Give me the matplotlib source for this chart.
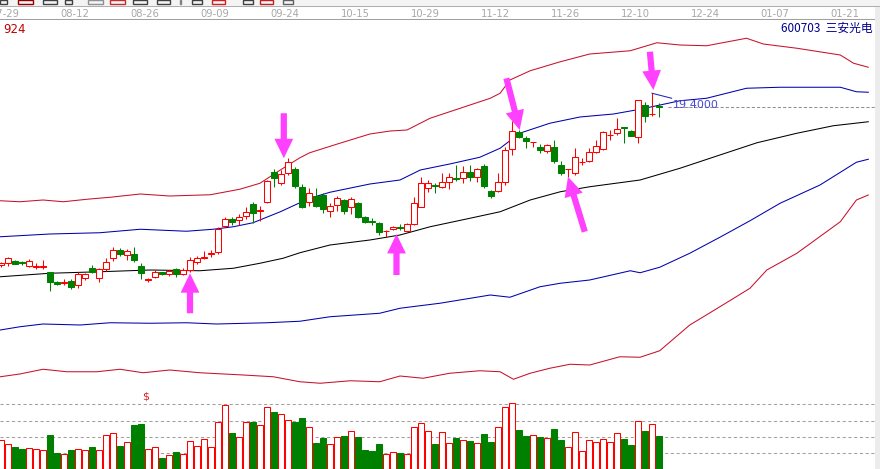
import matplotlib
matplotlib.use("Agg")
import matplotlib.pyplot as plt
from matplotlib.patches import Rectangle
import numpy as np

plt.rcParams['font.family'] = ['Noto Sans CJK SC', 'DejaVu Sans']

# %% data (daily OHLC + volume)
opens = [12.53, 12.60, 12.69, 12.64, 12.49, 12.44, 12.45, 12.24, 11.86, 11.80,
         11.90, 11.74, 12.02, 12.42, 12.02, 12.36, 12.82, 13.14, 12.92, 12.97,
         12.49, 11.93, 12.05, 12.25, 12.16, 12.36, 12.18, 12.33, 12.65, 12.80,
         12.97, 13.04, 14.09, 14.36, 14.33, 14.50, 14.97, 14.70, 15.04, 16.24,
         15.80, 16.20, 16.38, 15.66, 15.04, 15.29, 15.34, 14.70, 14.92, 15.13,
         14.84, 15.00, 14.46, 14.28, 14.20, 13.88, 13.96, 14.05, 13.89, 14.16,
         14.84, 15.60, 15.72, 15.66, 15.84, 16.01, 16.00, 16.24, 16.06, 16.50,
         15.49, 15.50, 15.86, 17.17, 17.86, 17.62, 17.45, 17.25, 17.10, 17.26,
         16.53, 16.36, 16.20, 16.65, 16.70, 17.04, 17.17, 17.72, 17.80, 18.05,
         17.89, 17.66, 18.93, 18.56, 18.89]
highs = [12.66, 12.86, 12.73, 12.70, 12.76, 12.60, 12.73, 12.25, 11.89, 11.96,
         11.96, 12.26, 12.22, 12.53, 12.41, 12.82, 13.24, 13.20, 13.17, 13.26,
         12.60, 12.01, 12.33, 12.26, 12.34, 12.40, 12.40, 12.84, 12.88, 13.10,
         13.13, 14.04, 14.44, 14.44, 14.57, 14.84, 15.06, 14.89, 15.93, 16.36,
         16.33, 16.80, 16.46, 15.76, 15.60, 15.61, 15.42, 15.00, 15.29, 15.16,
         15.24, 15.06, 14.49, 14.40, 14.24, 13.93, 14.09, 14.16, 14.20, 15.24,
         16.04, 15.93, 15.80, 16.20, 16.22, 16.53, 16.49, 16.53, 16.40, 16.56,
         15.53, 16.20, 17.26, 18.30, 17.93, 17.69, 17.46, 17.37, 17.37, 17.53,
         16.70, 16.37, 17.20, 16.80, 17.20, 17.53, 17.89, 17.93, 18.42, 18.06,
         17.93, 19.13, 19.06, 19.40, 19.00]
lows = [12.46, 12.49, 12.55, 12.52, 12.44, 12.36, 12.38, 11.49, 11.73, 11.73,
        11.56, 11.60, 11.93, 12.22, 11.85, 12.30, 12.70, 12.90, 12.72, 12.66,
        11.96, 11.85, 12.01, 12.14, 12.09, 12.06, 12.13, 12.26, 12.58, 12.76,
        12.84, 12.97, 14.06, 14.12, 14.13, 14.37, 14.20, 14.30, 15.01, 15.66,
        15.73, 16.13, 15.60, 14.82, 14.90, 14.84, 14.60, 14.44, 14.70, 14.57,
        14.57, 14.40, 14.21, 14.13, 13.73, 13.66, 13.93, 13.93, 13.86, 14.13,
        14.84, 15.46, 15.40, 15.60, 15.56, 15.89, 15.80, 15.89, 15.86, 15.60,
        15.20, 15.46, 15.73, 16.93, 17.60, 17.22, 17.26, 17.00, 17.00, 16.60,
        16.13, 16.06, 16.13, 16.53, 16.66, 17.00, 17.13, 17.53, 17.73, 17.40,
        17.69, 17.42, 18.26, 18.49, 18.46]
closes = [12.59, 12.80, 12.58, 12.61, 12.70, 12.49, 12.48, 11.84, 11.77, 11.86,
          11.64, 12.17, 12.18, 12.24, 12.36, 12.65, 13.12, 12.96, 13.08, 12.72,
          12.20, 11.97, 12.26, 12.16, 12.28, 12.18, 12.32, 12.73, 12.81, 12.86,
          13.01, 13.96, 14.37, 14.25, 14.46, 14.66, 14.60, 14.73, 15.89, 16.00,
          16.16, 16.64, 15.70, 14.84, 15.40, 14.90, 14.77, 14.89, 15.20, 14.70,
          15.17, 14.46, 14.24, 14.25, 13.84, 13.89, 14.06, 14.02, 14.16, 15.00,
          15.80, 15.82, 15.69, 15.84, 16.04, 15.98, 16.26, 16.06, 16.37, 15.69,
          15.29, 15.84, 17.13, 17.89, 17.66, 17.49, 17.46, 17.13, 17.33, 16.70,
          16.20, 16.37, 16.84, 16.66, 17.06, 17.30, 17.86, 17.73, 17.96, 18.02,
          17.70, 19.13, 18.50, 18.57, 18.86]
volumes = [29, 25, 22, 20, 20.7, 20, 18.7, 34, 16, 15,
           19, 20, 19, 22, 19, 34, 36, 23, 27, 44,
           45.3, 20, 21.7, 11, 14, 17, 15, 28, 23, 30,
           22, 47, 64, 36, 32, 47, 47.3, 44, 62, 57,
           55, 49, 47.3, 51, 42, 26, 31, 25, 32, 33,
           38, 32, 19, 18, 25, 15, 17, 16, 15, 42,
           46, 38, 25, 37, 26, 31, 29, 28, 26, 35,
           27, 42, 62, 65.7, 39, 33, 34, 32, 31, 40,
           29, 22, 37, 18, 29, 27, 30, 27, 36, 30,
           24, 48, 38, 45, 33]
vol_grid = [16, 32, 48, 65.5]

date_labels = ['07-29', '08-12', '08-26', '09-09', '09-24', '10-15', '10-29',
               '11-12', '11-26', '12-10', '12-24', '01-07', '01-21']

# band lines (bar index, price) incl. the projected part right of the last bar
up2_x = [-0.1, 2.7, 6.0, 8.9, 12.3, 15.6, 19.9, 24.1, 29.9, 34.1, 37.0, 39.9, 42.7,
         44.1, 48.4, 52.7, 55.6, 58.0, 61.3, 65.6, 69.9, 71.3, 72.7, 75.6, 79.9,
         84.1, 89.9, 93.7, 97.0, 100.8, 106.5, 108.9, 113.7, 119.9, 121.8, 123.9]
up2_y = [15.10, 15.06, 15.13, 15.06, 15.16, 15.24, 15.37, 15.29, 15.34, 15.56, 15.80,
         16.33, 16.82, 17.02, 17.40, 17.77, 17.89, 17.93, 18.40, 18.80, 19.20, 19.40,
         19.93, 20.30, 20.66, 20.97, 21.10, 21.42, 21.33, 21.30, 21.60, 21.37, 21.20,
         20.93, 20.60, 20.44]
up1_x = [-0.1, 7.0, 14.1, 19.9, 26.5, 30.3, 33.2, 36.0, 39.9, 42.7, 44.1, 47.0, 52.7,
         57.0, 59.9, 64.1, 68.4, 71.3, 74.1, 78.4, 82.7, 87.5, 91.3, 97.0, 100.8,
         106.5, 111.3, 119.9, 122.2, 123.9]
up1_y = [13.66, 13.77, 13.82, 13.96, 13.88, 13.96, 14.06, 14.22, 14.66, 15.02, 15.20,
         15.44, 15.77, 15.93, 16.33, 16.57, 16.84, 17.20, 17.80, 18.20, 18.45, 18.57,
         18.76, 19.10, 19.20, 19.60, 19.64, 19.64, 19.46, 19.44]
mid_x = [-0.1, 7.0, 14.1, 21.3, 28.4, 33.2, 37.0, 40.3, 42.7, 47.0, 52.7, 57.0, 61.3,
         67.0, 71.3, 75.6, 79.9, 84.1, 91.3, 97.0, 102.7, 108.0, 113.7, 118.9, 123.9]
mid_y = [12.06, 12.20, 12.26, 12.33, 12.30, 12.40, 12.60, 12.80, 13.02, 13.33, 13.53,
         13.73, 14.06, 14.40, 14.66, 15.13, 15.46, 15.66, 15.93, 16.40, 16.93, 17.42,
         17.80, 18.10, 18.26]
dn1_x = [-0.1, 2.7, 6.0, 11.3, 15.6, 21.3, 26.5, 30.8, 38.0, 42.7, 47.0, 54.1, 57.0,
         62.7, 69.9, 72.7, 77.0, 79.9, 84.1, 89.9, 91.3, 94.1, 98.4, 102.7, 107.0,
         111.3, 117.0, 122.2, 123.9]
dn1_y = [9.93, 10.06, 10.17, 10.13, 10.22, 10.20, 10.22, 10.17, 10.22, 10.28, 10.46,
         10.60, 10.80, 11.00, 11.33, 11.24, 11.66, 11.80, 11.93, 12.30, 12.22, 12.44,
         13.00, 13.64, 14.30, 15.00, 15.73, 16.64, 16.76]
dn2_x = [-0.1, 2.7, 6.0, 9.4, 13.7, 17.0, 20.3, 24.1, 28.4, 34.6, 38.9, 42.7, 45.6,
         49.9, 54.1, 57.0, 60.3, 64.1, 68.4, 71.3, 73.2, 75.6, 78.4, 81.3, 84.1, 88.4,
         91.3, 94.1, 98.4, 102.7, 107.0, 109.4, 113.7, 119.9, 122.2, 123.9]
dn2_y = [8.06, 8.17, 8.36, 8.26, 8.26, 8.36, 8.22, 8.33, 8.22, 8.13, 8.06, 7.86, 7.80,
         7.90, 7.86, 8.09, 8.00, 8.20, 8.30, 8.26, 7.96, 8.20, 8.40, 8.56, 8.53, 8.86,
         8.84, 9.10, 10.13, 10.86, 11.60, 12.33, 13.00, 14.26, 15.13, 15.33]

# magenta arrows: (tail x, tail price, tip x, tip price)
arrows = [(27.0, 10.60, 27.0, 12.20),
          (40.4, 18.60, 40.4, 16.80),
          (56.5, 12.13, 56.5, 13.77),
          (72.2, 20.00, 74.1, 17.93),
          (83.4, 13.86, 81.0, 16.06),
          (92.7, 21.06, 93.2, 19.53)]

# toolbar icon fragments at the very top (pixel x-ranges, colour)
toolbar_icons = [(0, 7, '#404040'), (18, 33, '#900000'), (43, 57, '#404040'),
                 (65, 72, '#404040'), (88, 103, '#909090'), (110, 125, '#c03030'),
                 (133, 147, '#404040'), (157, 170, '#404040'), (180, 181, '#808080'),
                 (192, 202, '#404040'), (212, 225, '#d02020'), (243, 253, '#404040'),
                 (260, 273, '#c02020'), (283, 293, '#606060')]

# %% plotting
W, H = 880, 469
fig = plt.figure(figsize=(8.8, 4.69), dpi=100)
fig.patch.set_facecolor('white')

RED = '#ff0000'
GREEN = '#008000'
BAND_RED = '#c8102e'
BAND_BLUE = '#0000b0'
LW = 0.75
xlim = (-1 / 7, (W - 1) / 7)
n = len(closes)
xs = np.arange(n)
up = np.array(closes) >= np.array(opens)

# price panel: pixel rows 20..390
ax = fig.add_axes([0, 79 / H, 1, 370 / H])
ax.set_xlim(xlim)
ax.set_ylim(7.53, 22.33)
ax.axis('off')

ax.plot(up2_x, up2_y, color=BAND_RED, lw=LW)
ax.plot(up1_x, up1_y, color=BAND_BLUE, lw=LW)
ax.plot(mid_x, mid_y, color='black', lw=LW)
ax.plot(dn1_x, dn1_y, color=BAND_BLUE, lw=LW)
ax.plot(dn2_x, dn2_y, color=BAND_RED, lw=LW)

for i in range(n):
    c = RED if up[i] else GREEN
    ax.vlines(xs[i], lows[i], highs[i], color=c, lw=LW, zorder=3)
    lo = min(opens[i], closes[i])
    h = max(abs(closes[i] - opens[i]), 0.005)
    ax.add_patch(Rectangle((xs[i] - 0.4, lo), 0.8, h,
                           facecolor='white' if up[i] else GREEN,
                           edgecolor=c, lw=LW, zorder=4))

# highest price marker + last price line
imax = int(np.argmax(highs))
ax.plot([imax, 95.8], [highs[imax], 19.20], color='#2020c0', lw=LW, zorder=5)
ax.text(96.0, 18.93, '%.4f' % highs[imax], color='#4848d0', fontsize=8,
        ha='left', va='center', family='DejaVu Sans', zorder=5)
ax.plot([95.3, 124.8], [closes[-1], closes[-1]], color='#909090', lw=LW,
        ls=(0, (3, 2)), zorder=2)

for x0, y0, x1, y1 in arrows:
    ax.annotate('', xy=(x1, y1), xytext=(x0, y0),
                arrowprops=dict(arrowstyle='simple,head_length=1.4,head_width=1.35,tail_width=0.45',
                                mutation_scale=10, color='#ff40ff', lw=0,
                                shrinkA=0, shrinkB=0), zorder=6)

# volume panel: pixel rows 390..469
axv = fig.add_axes([0, 0, 1, 79 / H])
axv.set_xlim(xlim)
axv.set_ylim(0, 79)
axv.axis('off')
for g in vol_grid:
    axv.axhline(g, color='#a0a0a0', lw=LW, ls=(0, (3, 2.5)), zorder=1)
for i in range(n):
    if up[i]:
        axv.add_patch(Rectangle((xs[i] - 0.4, 0), 0.8, volumes[i], facecolor='white',
                                edgecolor=RED, lw=LW, zorder=3))
    else:
        axv.add_patch(Rectangle((xs[i] - 0.4, 0), 0.8, volumes[i], facecolor=GREEN,
                                edgecolor=GREEN, lw=LW, zorder=3))
axv.text(20.6, 73, '$', color='#e02020', fontsize=8, ha='center', va='center',
         family='DejaVu Sans')

# date strip + toolbar: pixel rows 0..20
axd = fig.add_axes([0, 1 - 20 / H, 1, 20 / H])
axd.set_xlim(0, W)
axd.set_ylim(20, 0)
axd.axis('off')
axd.axhspan(0, 6.5, color='#f4f4f4', lw=0)
for x0, x1, col in toolbar_icons:
    axd.add_patch(Rectangle((x0, 0), x1 - x0, 4.5, facecolor='none' if x1 - x0 > 3 else col,
                            edgecolor=col, lw=1.0))
axd.axhline(6.5, color='#b0b0b0', lw=LW)
axd.axhline(19.5, color='#a0a0a0', lw=LW)
for k, lbl in enumerate(date_labels):
    axd.text(1 + 7 * (10 * k + 0.6), 14.2, lbl, color='#a8a8a8', fontsize=7.2,
             ha='center', va='center', family='DejaVu Sans')

# right border strip
fig.patches.append(Rectangle((875 / W, 0), 5 / W, 1 - 7 / H, transform=fig.transFigure,
                             facecolor='#ececec', edgecolor='none', zorder=10))

fig.text(3 / W, 1 - 29.5 / H, '924', color='#c00000', fontsize=8.5,
         ha='left', va='center', family='DejaVu Sans')
fig.text(873 / W, 1 - 28.5 / H, '600703  三安光电', color='#000090', fontsize=8.5,
         ha='right', va='center')

fig.savefig('out.png', dpi=100)
